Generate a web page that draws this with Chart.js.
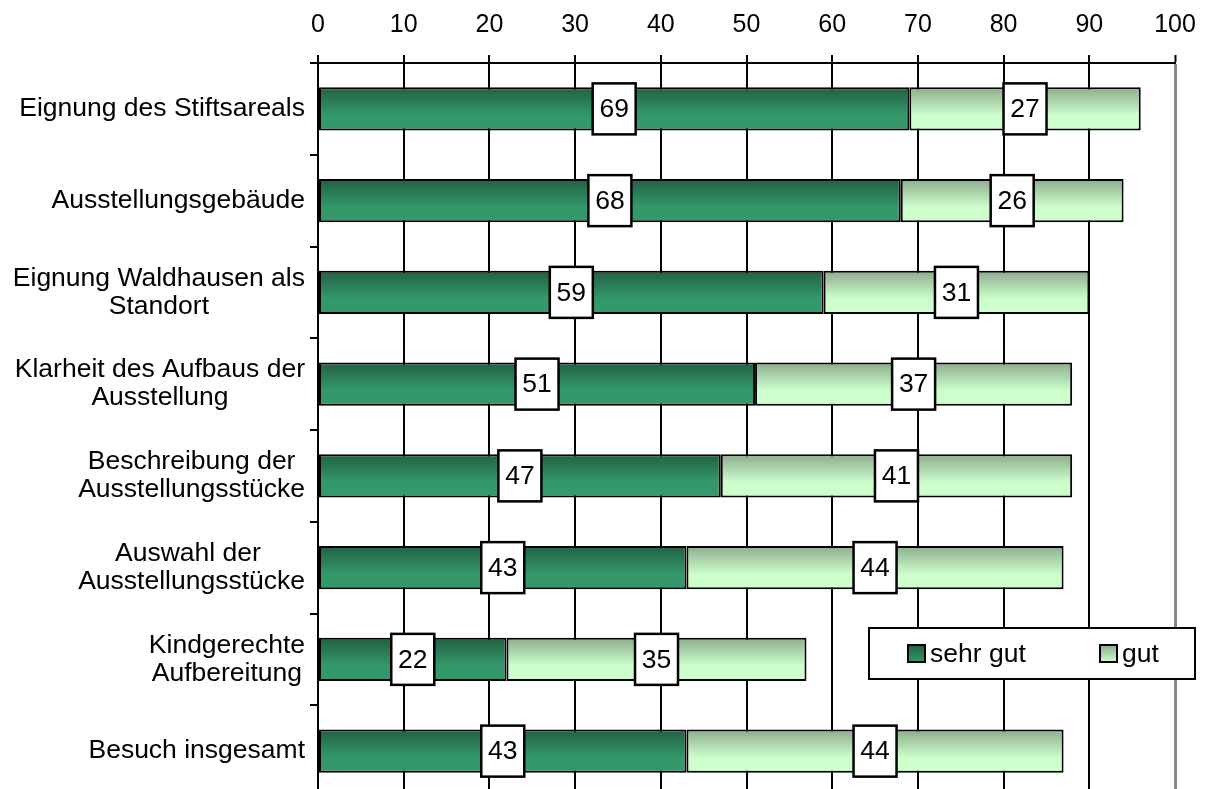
<!DOCTYPE html>
<html>
<head>
<meta charset="utf-8">
<script src="https://cdn.jsdelivr.net/npm/chart.js@4.4.1/dist/chart.umd.min.js"></script>
<style>
  html, body { margin: 0; padding: 0; background: #fff; overflow: hidden; }
  #wrap { width: 1208px; height: 797px; }
</style>
</head>
<body>
<div id="wrap"><canvas id="c" width="1208" height="797"></canvas></div>
<script>
// Bewertung des Ausstellungsbesuchs (Angaben in %)
const categories = [
  ['Eignung des Stiftsareals'],
  ['Ausstellungsgebäude'],
  ['Eignung Waldhausen als', 'Standort'],
  ['Klarheit des Aufbaus der', 'Ausstellung'],
  ['Beschreibung der', 'Ausstellungsstücke'],
  ['Auswahl der ', 'Ausstellungsstücke'],
  ['Kindgerechte', 'Aufbereitung'],
  ['Besuch insgesamt']
];
const sehrGut = [69, 68, 59, 51, 47, 43, 22, 43];
const gut     = [27, 26, 31, 37, 41, 44, 35, 44];
const xTicks  = [0, 10, 20, 30, 40, 50, 60, 70, 80, 90, 100];
const seriesNames = ['sehr gut', 'gut'];

const FONT = '"Liberation Sans", Arial, sans-serif';
const LABEL_SIZE = 26.5;
const BAR_PCT = 0.47;

// vertical gradient colours per series: [top, bottom]
const shades = [
  ['#225f42', '#33996b'],
  ['#8dab8d', '#ccffcc']
];

function barGradient(ctx, dsIndex) {
  const chart = ctx.chart;
  const y = chart.scales.y;
  if (!y || ctx.dataIndex === undefined) return shades[dsIndex][1];
  const c = y.getPixelForValue(ctx.dataIndex);
  const half = (y.height / categories.length) * BAR_PCT / 2;
  if (!isFinite(c) || !isFinite(half) || half <= 0) return shades[dsIndex][1];
  const g = chart.ctx.createLinearGradient(0, c - half, 0, c + half);
  g.addColorStop(0, shades[dsIndex][0]);
  g.addColorStop(0.65, shades[dsIndex][1]);
  g.addColorStop(1, shades[dsIndex][1]);
  return g;
}

// category labels: block right-aligned, lines centred within the block
const categoryLabels = {
  id: 'categoryLabels',
  afterDraw(chart) {
    const { ctx } = chart;
    const y = chart.scales.y;
    ctx.save();
    ctx.font = LABEL_SIZE + 'px ' + FONT;
    ctx.fillStyle = '#000';
    ctx.textAlign = 'center';
    ctx.textBaseline = 'middle';
    const lh = 28;
    categories.forEach((lines, i) => {
      const w = Math.max(...lines.map(l => ctx.measureText(l.trimEnd()).width));
      const cx = 305 - w / 2;
      const cy = y.getPixelForValue(i);
      lines.forEach((l, k) => {
        ctx.fillText(l, cx, cy + (k - (lines.length - 1) / 2) * lh);
      });
    });
    ctx.restore();
  }
};

// value boxes centred on each segment
const valueBoxes = {
  id: 'valueBoxes',
  afterDatasetsDraw(chart) {
    const { ctx } = chart;
    ctx.save();
    ctx.font = LABEL_SIZE + 'px ' + FONT;
    ctx.textAlign = 'center';
    ctx.textBaseline = 'middle';
    chart.data.datasets.forEach((ds, di) => {
      chart.getDatasetMeta(di).data.forEach((bar, i) => {
        const cx = (bar.x + bar.base) / 2;
        const cy = bar.y;
        const w = 43, h = 51;
        ctx.fillStyle = '#fff';
        ctx.fillRect(cx - w / 2, cy - h / 2, w, h);
        ctx.lineWidth = 2.5;
        ctx.strokeStyle = '#000';
        ctx.strokeRect(cx - w / 2, cy - h / 2, w, h);
        ctx.fillStyle = '#000';
        ctx.fillText(String(ds.data[i]), cx, cy + 1);
      });
    });
    ctx.restore();
  }
};

// legend box inside the plot
const legendBox = {
  id: 'legendBox',
  afterDraw(chart) {
    const { ctx } = chart;
    ctx.save();
    const x0 = 869, y0 = 628, w = 326, h = 51;
    ctx.fillStyle = '#fff';
    ctx.fillRect(x0, y0, w, h);
    ctx.lineWidth = 2;
    ctx.strokeStyle = '#000';
    ctx.strokeRect(x0, y0, w, h);
    const items = [{ x: 908 }, { x: 1100 }];
    ctx.font = LABEL_SIZE + 'px ' + FONT;
    ctx.textBaseline = 'middle';
    ctx.textAlign = 'left';
    items.forEach((it, i) => {
      const sy = 645, s = 17;
      const g = ctx.createLinearGradient(0, sy, 0, sy + s);
      g.addColorStop(0, shades[i][0]);
      g.addColorStop(1, shades[i][1]);
      ctx.fillStyle = g;
      ctx.fillRect(it.x, sy, s, s);
      ctx.lineWidth = 2;
      ctx.strokeStyle = '#000';
      ctx.strokeRect(it.x, sy, s, s);
      ctx.fillStyle = '#000';
      ctx.fillText(seriesNames[i], it.x + 22, sy + s / 2 + 1);
    });
    ctx.restore();
  }
};

new Chart(document.getElementById('c'), {
  type: 'bar',
  data: {
    labels: categories.map(c => c.join(' ')),
    datasets: [
      { label: seriesNames[0], data: sehrGut, backgroundColor: c => barGradient(c, 0) },
      { label: seriesNames[1], data: gut,     backgroundColor: c => barGradient(c, 1) }
    ]
  },
  options: {
    indexAxis: 'y',
    responsive: false,
    animation: false,
    devicePixelRatio: 1,
    layout: { padding: { left: 0, right: 33, top: 0, bottom: 0 } },
    datasets: {
      bar: {
        barPercentage: BAR_PCT,
        categoryPercentage: 1,
        borderColor: '#000',
        borderWidth: 2,
        borderSkipped: false
      }
    },
    plugins: {
      legend: { display: false },
      tooltip: { enabled: false },
      title: { display: false }
    },
    scales: {
      x: {
        position: 'top',
        stacked: true,
        min: 0,
        max: 100,
        afterBuildTicks: s => { s.ticks = xTicks.map(v => ({ value: v })); },
        afterFit: s => { s.height = 63; s.paddingLeft = 0; s.paddingRight = 0; },
        ticks: {
          color: '#000',
          font: { family: FONT, size: 25 },
          padding: 15,
          maxRotation: 0
        },
        grid: {
          color: c => (c.tick && c.tick.value === 100 ? '#888888' : '#000'),
          lineWidth: c => (c.tick && c.tick.value === 100 ? 3 : 2),
          tickColor: '#000',
          tickWidth: 2,
          tickLength: 8
        },
        border: { display: true, color: '#000', width: 2 }
      },
      y: {
        stacked: true,
        afterFit: s => { s.width = 318; },
        ticks: { display: false },
        grid: {
          offset: true,
          drawOnChartArea: false,
          drawTicks: true,
          tickLength: 8,
          color: '#000',
          lineWidth: 2
        },
        border: { display: true, color: '#000', width: 2 }
      }
    }
  },
  plugins: [categoryLabels, valueBoxes, legendBox]
});
</script>
</body>
</html>
